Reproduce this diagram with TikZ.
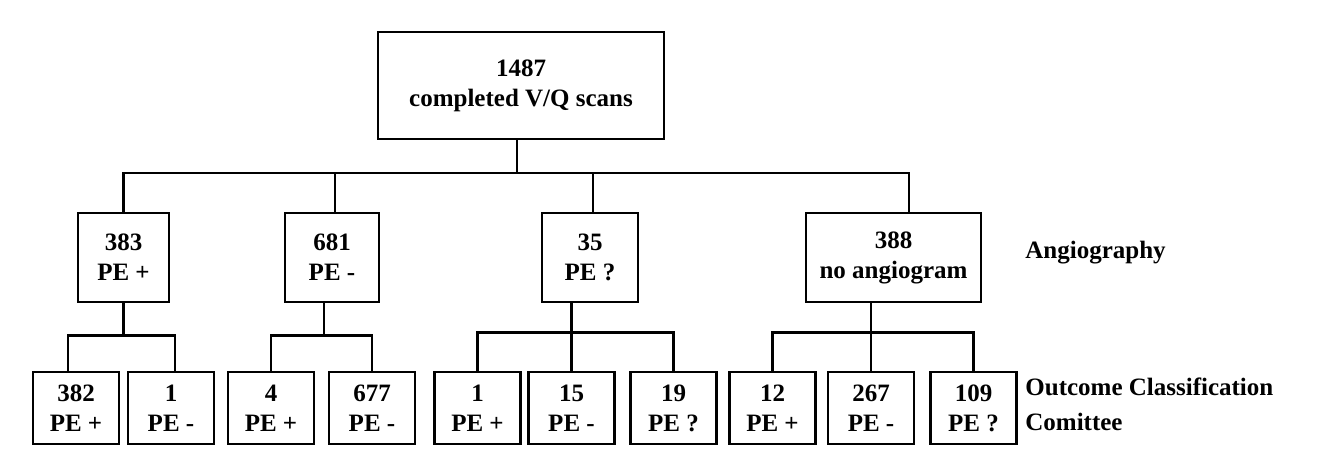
\documentclass[tikz,border=0pt]{standalone}
\usepackage{fontspec}
\setmainfont{Liberation Serif}

\begin{document}
\begin{tikzpicture}[
    x=0.5pt, y=-0.5pt,
    link/.style={line width=1.3pt},
    box/.style={draw, line width=1.3pt, align=center, inner sep=0pt,
                font=\fontsize{12.5}{15}\selectfont\bfseries},
    mid/.style={box, minimum height=44.5pt},
    leaf/.style={box, minimum width=43pt, minimum height=36pt},
    lbl/.style={anchor=west, align=left, inner sep=0pt,
                font=\fontsize{12.5}{17.5}\selectfont\bfseries}
  ]
  \useasboundingbox (0,0) rectangle (1326,466);

  \node[box, minimum width=143pt, minimum height=53.5pt] (scans) at (521,85.5)
       {1487\\completed V/Q scans};

  % angiography
  \node[mid, minimum width=45.5pt] (pos) at (123.5,257.5) {383\\PE +};
  \node[mid, minimum width=47pt] (neg) at (332,257.5) {681\\PE -};
  \node[mid, minimum width=48pt] (unk) at (590,257.5) {35\\PE ?};
  \node[mid, minimum width=87.5pt] (none) at (893.5,257.5) {388\\no angiogram};

  % outcome committee
  \node[leaf] (pospos) at (76,408) {382\\PE +};
  \node[leaf] (posneg) at (171,408) {1\\PE -};
  \node[leaf] (negpos) at (271,408) {4\\PE +};
  \node[leaf] (negneg) at (372,408) {677\\PE -};
  \node[leaf] (unkpos) at (477.5,408) {1\\PE +};
  \node[leaf] (unkneg) at (571.5,408) {15\\PE -};
  \node[leaf] (unkunk) at (673.5,408) {19\\PE ?};
  \node[leaf] (nonepos) at (772.5,408) {12\\PE +};
  \node[leaf] (noneneg) at (871,408) {267\\PE -};
  \node[leaf] (noneunk) at (973.5,408) {109\\PE ?};

  \node[lbl] (angio) at (1025,253) {Angiography};
  \node[lbl] (outcome) at (1025,404.5) {Outcome Classification\\Comittee};

  % top split
  \coordinate (split) at (517,173);
  \draw[link] (scans.south -| split) -- (split);
  \draw[link] (pos.north) |- (split) -| ([xshift=7.75pt]none.north);
  \draw[link] ([xshift=1.5pt]neg.north) -- ++(0,-40);
  \draw[link] ([xshift=1.5pt]unk.north) -- ++(0,-40);

  % 383 branch
  \draw[link] (pos.south) -- ++(0,32) coordinate (posbar);
  \draw[link] ([xshift=-4pt]pospos.north) |- (posbar) -| ([xshift=2pt]posneg.north);
  % 681 branch
  \draw[link] ([xshift=-4pt]neg.south) -- ++(0,32) coordinate (negbar);
  \draw[link] (negpos.north) |- (negbar) -| (negneg.north);
  % 35 branch
  \draw[link] (unk.south -| unkneg.north) -- (unkneg.north);
  \draw[link] (unkpos.north) -- ++(0,-38) -| (unkunk.north);
  % 388 branch
  \draw[link] (none.south -| noneneg.north) -- (noneneg.north);
  \draw[link] (nonepos.north) -- ++(0,-38) -| (noneunk.north);
\end{tikzpicture}
\end{document}
